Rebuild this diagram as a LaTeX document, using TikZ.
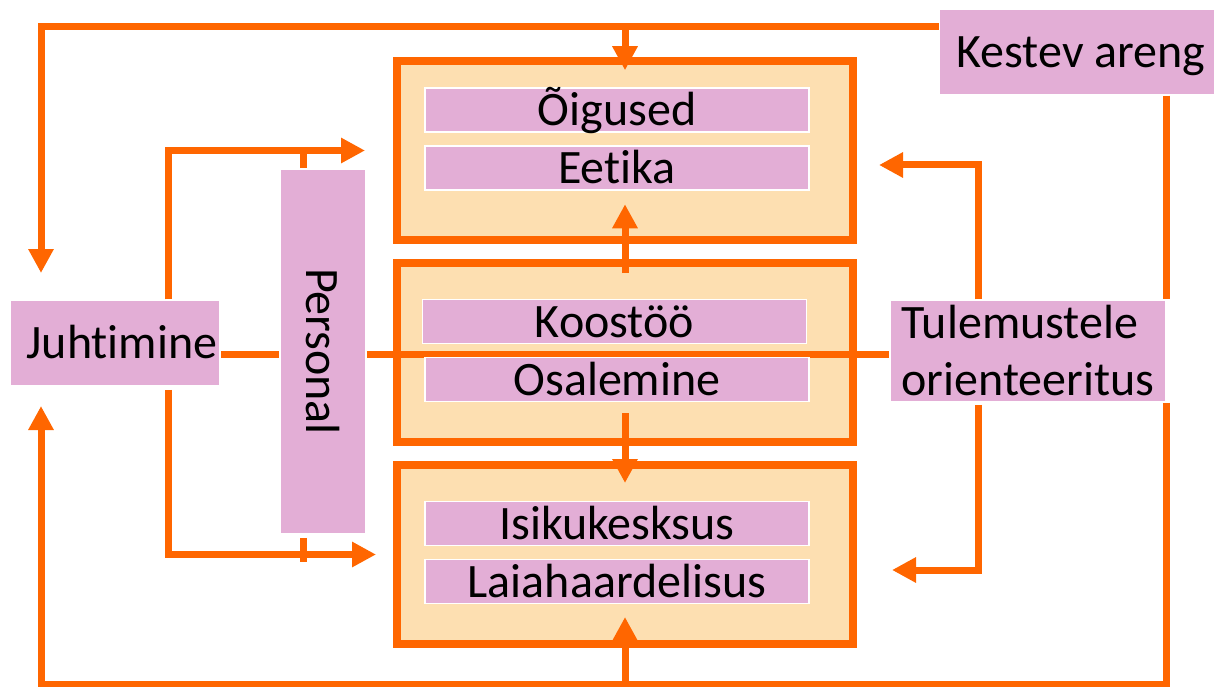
\documentclass[tikz,border=0pt]{standalone}
\usepackage{fontspec}
\setmainfont{Carlito}[Ligatures=NoCommon]
\usepackage{graphicx}
\usetikzlibrary{arrows.meta}
\definecolor{orng}{HTML}{FF6600}
\definecolor{rosa}{HTML}{E3AED6}
\definecolor{pfirsich}{HTML}{FDDFB1}

\begin{document}
\begin{tikzpicture}[x=1pt,y=-1pt,
      kasten/.style={rectangle, fill=rosa, draw=white, line width=1.5pt, inner sep=0pt, font=\fontsize{48}{57}\selectfont},
      zeile/.style={text height=31pt, text depth=0pt},
      feld/.style={kasten, zeile, minimum width=384pt, minimum height=44pt},
      rahmen/.style={rectangle, fill=pfirsich, draw=orng, line width=8pt, outer sep=0pt, minimum width=456pt, minimum height=179pt},
      linie/.style={draw=orng, line width=7pt},
      pfeil/.style={linie, -{Triangle[length=24pt,width=24pt]}}]

\useasboundingbox (0,0) rectangle (1214,687);

\node[rahmen] (r1) at (625,150.75) {};
\node[rahmen] (r2) at (625,352.5) {};
\node[rahmen] (r3) at (625,554) {};
\node[kasten,zeile,minimum width=210pt,minimum height=86pt] (juht) at (115,343) {\hspace*{14pt}Juhtimine};
\node[kasten,minimum width=86pt,minimum height=365pt] (pers) at (323,351.5) {\rotatebox{-90}{Personal}};
\node[kasten,align=left,minimum width=276pt,minimum height=102pt] (tul) at (1028,351) {Tulemustele\\orienteeritus};
\node[kasten,zeile,minimum width=275pt,minimum height=86pt] (kest) at (1077,52) {\hspace*{8pt}Kestev areng};

\coordinate (ol) at (41,27);
\coordinate (ul) at (41,684);
\coordinate (jz1) at (41,273);
\coordinate (jz2) at (41,406);
\coordinate (zo) at (365,150.5);
\coordinate (zu) at (376,554.5);
\coordinate (zr1) at (879,165);
\coordinate (zr2) at (892,570);
\coordinate (mi) at (625,354.5);

\draw[pfeil] (kest.west |- ol) -| (jz1);
\draw[pfeil] (r1.north |- ol) -- ([shift={(0,9)}]r1.north);
\draw[linie] (kest.south -| tul.east) -- (tul.north east);
\draw[pfeil] (tul.south east) |- (ul) -- (jz2);
\draw[pfeil] (r3.south |- ul) -- ([shift={(0,-26.5)}]r3.south);
\draw[pfeil] ([shift={(0,10)}]r2.north) -- ([shift={(0,-36)}]r1.south);
\draw[pfeil] ([shift={(0,-29)}]r2.south) -- ([shift={(0,18.5)}]r3.north);
\draw[linie] (juht.east |- mi) -- (pers.west |- mi);
\draw[linie] (pers.east |- mi) -- (tul.west |- mi);
\draw[pfeil] ([shift={(53,0)}]juht.north) |- (zo);
\draw[pfeil] ([shift={(53,3)}]juht.south) |- (zu);
\draw[linie] ([shift={(-20,0)}]pers.north) -- ++(0,-19);
\draw[linie] ([shift={(-20,3)}]pers.south) -- ++(0,24);
\draw[pfeil] ([shift={(-50,0)}]tul.north) |- (zr1);
\draw[pfeil] ([shift={(-50,2)}]tul.south) |- (zr2);

\node[feld] (oig) at (617,110) {Õigused};
\node[feld] (eet) at (617,168) {Eetika};
\node[feld] (koo) at (614.5,321.5) {Koostöö};
\node[feld] (osa) at (617,379.5) {Osalemine};
\node[feld] (isi) at (617,523.5) {Isikukesksus};
\node[feld] (lai) at (617,581.5) {Laiahaardelisus};

\end{tikzpicture}
\end{document}
